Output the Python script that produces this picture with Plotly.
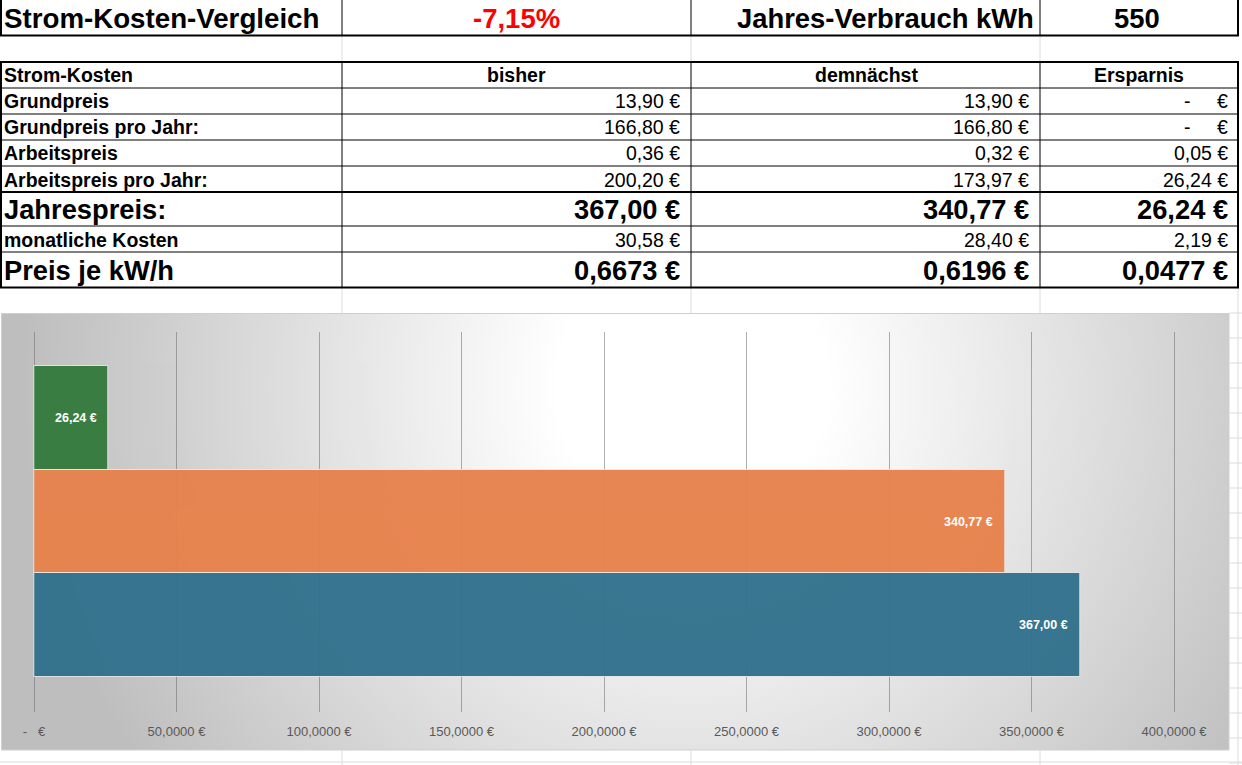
import base64
import plotly.graph_objects as go

# ---- data ----
title = "Strom-Kosten-Vergleich"
change_pct = -7.15
verbrauch_label = "Jahres-Verbrauch kWh"
verbrauch_kwh = 550

header = ["Strom-Kosten", "bisher", "demnächst", "Ersparnis"]
row_labels = ["Grundpreis", "Grundpreis pro Jahr:", "Arbeitspreis", "Arbeitspreis pro Jahr:",
              "Jahrespreis:", "monatliche Kosten", "Preis je kW/h"]
bisher = [13.90, 166.80, 0.36, 200.20, 367.00, 30.58, 0.6673]
demnaechst = [13.90, 166.80, 0.32, 173.97, 340.77, 28.40, 0.6196]
ersparnis = [0.00, 0.00, 0.05, 26.24, 26.24, 2.19, 0.0477]
decimals = [2, 2, 2, 2, 2, 2, 4]
big_rows = [4, 6]

# chart: Jahrespreis per column, bottom to top
bar_cats = ["bisher", "demnächst", "Ersparnis"]
bar_vals = [bisher[4], demnaechst[4], ersparnis[4]]
bar_colors = ["#31718D", "#E8824C", "#357A3D"]
tick_vals = [0, 50, 100, 150, 200, 250, 300, 350, 400]
tick_text = ["-\u00a0\u00a0\u00a0€", "50,0000 €", "100,0000 €", "150,0000 €", "200,0000 €",
             "250,0000 €", "300,0000 €", "350,0000 €", "400,0000 €"]

W, H = 1242, 765
FONT = "Liberation Sans, Arial, sans-serif"


def px(x):
    return x / W


def py(y):
    return 1 - y / H


def de(v, nd):
    s = f"{v:.{nd}f}"
    return s.replace(".", ",") + " €"


# sheet geometry (pixels)
cols = [1, 342, 691, 1040, 1238]
rows = [62, 88, 114, 140, 166, 192, 226, 252, 287]
num_right = [682, 1031, 1230]
col_mid = [516, 866, 1139]
left_x = 1.5

fig = go.Figure()

fig.add_trace(go.Bar(
    x=bar_vals, y=bar_cats, orientation="h",
    marker=dict(color=bar_colors, line=dict(color="rgba(235,235,235,0.9)", width=1)),
    opacity=0.96, hoverinfo="skip", showlegend=False,
))

ann = []


def txt(x, y, s, size, bold=False, anchor="left", color="black"):
    ann.append(dict(x=px(x), y=py(y), xref="paper", yref="paper", text=f"<b>{s}</b>" if bold else s,
                    showarrow=False, xanchor=anchor, yanchor="middle",
                    font=dict(family=FONT, size=size, color=color)))


# title row
txt(left_x, 18, title, 27.7, True)
txt(col_mid[0], 18, f"{change_pct:.2f}%".replace(".", ","), 27.5, True, "center", "#FF0000")
txt(1036, 18, verbrauch_label, 27.4, True, "right")
txt(col_mid[2] - 2, 18, str(verbrauch_kwh), 27.4, True, "center")

# header row
txt(left_x, 75.5, header[0], 19.5, True)
for i in range(3):
    txt(col_mid[i], 75.5, header[i + 1], 19.5, True, "center")

# body rows
for r, lab in enumerate(row_labels):
    yc = (rows[r + 1] + rows[r + 2]) / 2 + 0.5
    big = r in big_rows
    size = 27.3 if big else 19.5
    txt(left_x, yc, lab, size, True)
    for c, series in enumerate([bisher, demnaechst, ersparnis]):
        v = series[r]
        if v == 0:
            txt(1187, yc, "-", size, big, "center")
            txt(num_right[c], yc, "€", size, big, "right")
        else:
            txt(num_right[c], yc, de(v, decimals[r]), size, big, "right")

# bar value labels, inside end
for v, cat in zip(bar_vals, bar_cats):
    ann.append(dict(x=v, y=cat, xref="x", yref="y", text=f"<b>{de(v, 2)}</b>", showarrow=False,
                    xanchor="right", yanchor="middle", xshift=-10,
                    font=dict(family=FONT, size=12.5, color="white")))

shapes = []


def line(x0, y0, x1, y1, color="black", width=1):
    shapes.append(dict(type="line", xref="paper", yref="paper", x0=px(x0), y0=py(y0), x1=px(x1), y1=py(y1),
                       line=dict(color=color, width=width)))


grid = "#dcdcdc"
# faint sheet grid around the blocks
for x in cols[1:4]:
    line(x, 35, x, 62, grid)
    line(x, 287, x, 313, grid)
    line(x, 750, x, 765, grid)
line(1238, 287, 1238, 765, grid)
line(0, 762, 1242, 762, grid)
for k in range(19):
    y = 313 + 25 * k
    line(1229, y, 1242, y, grid)

# title row borders
line(1, 0, 1, 35.5, width=2)
line(1238, 0, 1238, 35.5, width=2)
line(0, 35.5, 1239, 35.5, width=2)
for x in cols[1:4]:
    line(x, 0, x, 35)

# table borders
for y in rows[1:-1]:
    line(1, y, 1238, y, width=2 if y == 192 else 1)
for x in cols[1:4]:
    line(x, 62, x, 287)
line(0, 62, 1239, 62, width=2)
line(0, 287.5, 1239, 287.5, width=2)
line(1, 62, 1, 287.5, width=2)
line(1238, 62, 1238, 287.5, width=2)

# chart frame
shapes.append(dict(type="rect", xref="paper", yref="paper", x0=px(1.5), y0=py(750), x1=px(1229), y1=py(313.5),
                   line=dict(color="#cfcfcf", width=1), layer="below"))

svg = ("<svg xmlns='http://www.w3.org/2000/svg' width='1227' height='437' viewBox='0 0 1227 437' "
       "preserveAspectRatio='none'><defs><radialGradient id='g' gradientUnits='userSpaceOnUse' "
       "cx='690' cy='75' r='670'><stop offset='0' stop-color='#ffffff'/><stop offset='0.2' "
       "stop-color='#ffffff'/><stop offset='1' stop-color='#bebebe'/></radialGradient></defs>"
       "<rect width='1227' height='437' fill='url(#g)'/></svg>")
bg = "data:image/svg+xml;base64," + base64.b64encode(svg.encode()).decode()

x_lo, x_hi = -2, 402
u = (1174 - 34) / 400

fig.update_layout(
    width=W, height=H, margin=dict(l=0, r=0, t=0, b=0, autoexpand=False), autosize=False,
    paper_bgcolor="white", plot_bgcolor="rgba(0,0,0,0)",
    bargap=0, annotations=ann, shapes=shapes,
    images=[dict(source=bg, xref="paper", yref="paper", x=px(2), y=py(313.5), sizex=1227 / W, sizey=436.5 / H,
                 xanchor="left", yanchor="top", sizing="stretch", layer="below")],
    xaxis=dict(domain=[px(34 + x_lo * u), px(34 + x_hi * u)], range=[x_lo, x_hi], automargin=False,
               tickvals=tick_vals, ticktext=tick_text, showgrid=True, gridcolor="rgba(110,110,110,0.55)",
               gridwidth=1, zeroline=True, zerolinecolor="rgba(110,110,110,0.55)", zerolinewidth=1,
               showline=False, ticks="", ticklabelstandoff=10,
               tickfont=dict(family=FONT, size=13, color="#595959")),
    yaxis=dict(domain=[py(712), py(332)], type="category", range=[-0.837, 2.828], automargin=False,
               showticklabels=False, showgrid=False, zeroline=False, showline=False),
)

fig.write_html("out.html", config={"displayModeBar": False, "responsive": False},
               post_script="document.body.style.margin='0';document.body.style.overflow='hidden';")
